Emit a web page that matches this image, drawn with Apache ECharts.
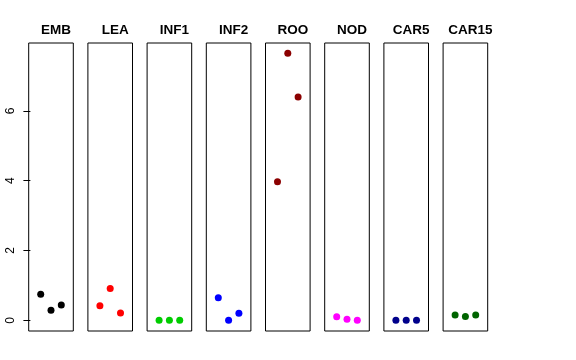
<!DOCTYPE html>
<html><head><meta charset="utf-8">
<script src="https://cdn.jsdelivr.net/npm/echarts@6/dist/echarts.min.js"></script>
<style>html,body{margin:0;padding:0;background:#fff}#c{width:576px;height:360px}</style>
</head><body><div id="c"></div>
<script>
const categories = ["EMB","LEA","INF1","INF2","ROO","NOD","CAR5","CAR15"];
const emb = [0.75, 0.29, 0.44];
const lea = [0.42, 0.91, 0.21];
const inf1 = [0.0, 0.0, 0.0];
const inf2 = [0.65, 0.0, 0.20];
const roo = [3.97, 7.65, 6.40];
const nod = [0.10, 0.03, 0.0];
const car5 = [0.0, 0.0, 0.0];
const car15 = [0.15, 0.11, 0.15];
const replicates = [1, 2, 3];
const yTicks = [0, 2, 4, 6];
const colors = ["#000000","#FF0000","#00CD00","#0000FF","#8B0000","#FF00FF","#00008B","#006400"];
const seriesValues = [emb, lea, inf1, inf2, roo, nod, car5, car15];

const panelLeft0 = 28.7, panelStep = 59.2, panelW = 44.6, panelTop = 43, panelH = 288;
const grids = [], xAxes = [], yAxes = [], series = [], titles = [];
categories.forEach((cat, i) => {
  const left = panelLeft0 + i * panelStep;
  grids.push({left: left, top: panelTop, width: panelW, height: panelH, show: true,
    borderColor: '#000', borderWidth: 1, backgroundColor: 'transparent'});
  xAxes.push({type: 'value', gridIndex: i, min: -0.165, max: 4.165, show: false});
  yAxes.push({type: 'value', gridIndex: i, min: -0.306, max: 7.946,
    show: i === 0,
    axisLine: {show: false},
    splitLine: {show: false},
    axisTick: {show: true, inside: false, length: 7, customValues: yTicks, lineStyle: {color: '#000'}},
    axisLabel: {show: true, customValues: yTicks, rotate: 90, margin: 12, fontSize: 12,
      fontFamily: 'Liberation Sans, Arial, sans-serif', color: '#000'}
  });
  series.push({type: 'scatter', xAxisIndex: i, yAxisIndex: i, symbol: 'circle', symbolSize: 7,
    itemStyle: {color: colors[i], opacity: 1},
    data: seriesValues[i].map((v, k) => [replicates[k], v])});
  titles.push({text: cat, left: left + panelW / 2, top: 18, textAlign: 'center',
    textStyle: {fontSize: 13.5, fontWeight: 'bold', color: '#000', fontFamily: 'Liberation Sans, Arial, sans-serif'}});
});
const chart = echarts.init(document.getElementById('c'), null, {renderer: 'canvas'});
chart.setOption({animation: false, backgroundColor: '#fff', title: titles, grid: grids, xAxis: xAxes, yAxis: yAxes, series: series});
</script></body></html>
